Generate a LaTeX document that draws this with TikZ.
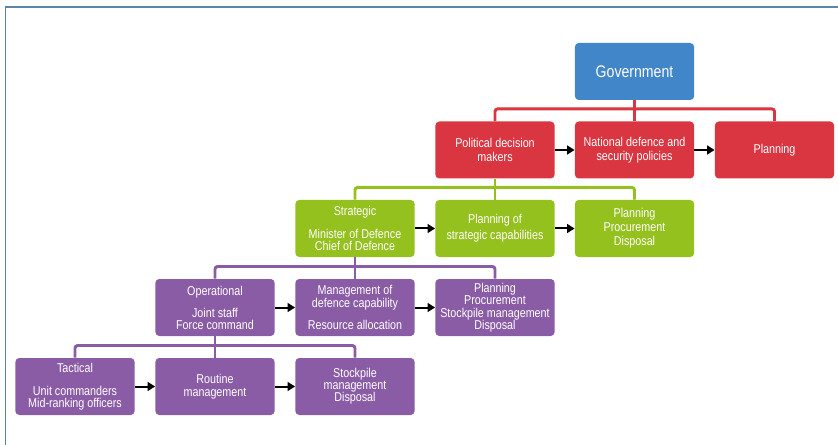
\documentclass[tikz,border=0pt]{standalone}
\usepackage{fontspec}
\setmainfont{Liberation Sans}[FakeStretch=0.84]
\usetikzlibrary{arrows.meta,calc}
\definecolor{govblue}{HTML}{4186C8}
\definecolor{polred}{HTML}{D93641}
\definecolor{strgreen}{HTML}{95C11F}
\definecolor{oppurple}{HTML}{8A5CA5}
\definecolor{framecol}{HTML}{5A86A8}
\begin{document}
\begin{tikzpicture}[x=0.75pt,y=-0.75pt,
  box/.style={rectangle, rounded corners=3pt, minimum width=89.5pt, minimum height=42.75pt,
    text=white, align=center, inner sep=0pt},
  fs/.style={font=\fontsize{9.6}{#1}\selectfont},
  govbox/.style={box, fill=govblue, font=\fontsize{12.6}{14}\selectfont},
  redbox/.style={box, fill=polred},
  greenbox/.style={box, fill=strgreen},
  purplebox/.style={box, fill=oppurple},
  conn/.style={line width=2.2pt, rounded corners=2pt},
  arr/.style={line width=1.5pt, -{Triangle[length=5.5pt,width=6.5pt]}, black}
]
\useasboundingbox (0,0) rectangle (838,445);
\draw[framecol, line width=1.1pt] (5.5,445) -- (5.5,7) -- (838,7);

% Government
\node[govbox] (gov) at (634.5,71.5) {Government};
% Red row
\node[redbox, fs=10.5] (pol) at (495,150) {Political decision\\makers};
\node[redbox, fs=10.5] (nat) at (634.5,150) {National defence and\\security policies};
\node[redbox, fs=10.5] (plan) at (774.5,150) {Planning};
% Green row
\node[greenbox, fs=8.8] (strat) at (355,228.5) {Strategic\\[7pt]Minister of Defence\\Chief of Defence};
\node[greenbox, fs=12] (planof) at (495,228.5) {Planning of\\strategic capabilities};
\node[greenbox, fs=10.5] (proc) at (634.5,228.5) {Planning\\Procurement\\Disposal};
% Purple row 1
\node[purplebox, fs=8.8] (oper) at (215,307.5) {Operational\\[6.7pt]Joint staff\\Force command};
\node[purplebox, fs=8.8] (mgmt) at (355,307.5) {Management of\\defence capability\\[6.2pt]Resource allocation};
\node[purplebox, fs=9.4] (plan4) at (495,307.5) {Planning\\Procurement\\Stockpile management\\Disposal};
% Purple row 2
\node[purplebox, fs=8.8] (tact) at (75,386.5) {Tactical\\[8.7pt]Unit commanders\\Mid-ranking officers};
\node[purplebox, fs=9.3] (rout) at (215,386.5) {Routine\\management};
\node[purplebox, fs=9.1] (stock) at (355,386.5) {Stockpile\\management\\Disposal};

% Red connectors
\draw[conn, polred] (gov.south) -- (nat.north);
\draw[conn, polred] (pol.north) |- ($(gov.south)!0.41!(nat.north)$) -| (plan.north);
% Green connectors
\draw[conn, strgreen] (pol.south) -- (planof.north);
\draw[conn, strgreen] (strat.north) |- ($(pol.south)!0.41!(planof.north)$) -| (proc.north);
% Purple connectors
\draw[conn, oppurple] (strat.south) -- (mgmt.north);
\draw[conn, oppurple] (oper.north) |- ($(strat.south)!0.43!(mgmt.north)$) -| (plan4.north);
\draw[conn, oppurple] (oper.south) -- (rout.north);
\draw[conn, oppurple] (tact.north) |- ($(oper.south)!0.43!(rout.north)$) -| (stock.north);

% Arrows
\draw[arr] (pol.east) -- (nat.west);
\draw[arr] (nat.east) -- (plan.west);
\draw[arr] (strat.east) -- (planof.west);
\draw[arr] (planof.east) -- (proc.west);
\draw[arr] (oper.east) -- (mgmt.west);
\draw[arr] (mgmt.east) -- (plan4.west);
\draw[arr] (tact.east) -- (rout.west);
\draw[arr] (rout.east) -- (stock.west);
\end{tikzpicture}
\end{document}
